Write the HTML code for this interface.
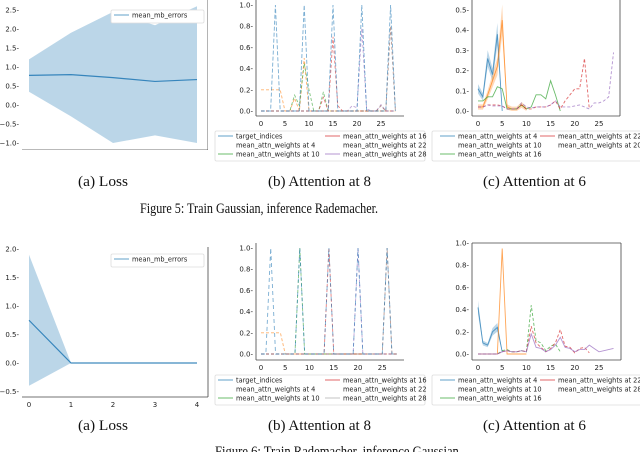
<!DOCTYPE html>
<html><head><meta charset="utf-8"><style>
html,body{margin:0;padding:0;background:#fff;width:640px;height:452px;overflow:hidden}
svg text{font-family:"DejaVu Sans","Liberation Sans",sans-serif}
svg text.cap{font-family:"Liberation Serif",serif;font-size:15px;fill:#111}
</style></head><body>
<svg id="fig" width="640" height="452" viewBox="0 0 640 452" xmlns="http://www.w3.org/2000/svg">
<text class="cap" style="font-family:'Liberation Serif',serif" x="78" y="186" textLength="50" lengthAdjust="spacingAndGlyphs">(a) Loss</text>
<text class="cap" style="font-family:'Liberation Serif',serif" x="268" y="186" textLength="103" lengthAdjust="spacingAndGlyphs">(b) Attention at 8</text>
<text class="cap" style="font-family:'Liberation Serif',serif" x="483" y="186" textLength="103" lengthAdjust="spacingAndGlyphs">(c) Attention at 6</text>
<text class="cap" style="font-family:'Liberation Serif',serif" x="140" y="213" textLength="238" lengthAdjust="spacingAndGlyphs">Figure 5: Train Gaussian, inference Rademacher.</text>
<text class="cap" style="font-family:'Liberation Serif',serif" x="78" y="430" textLength="50" lengthAdjust="spacingAndGlyphs">(a) Loss</text>
<text class="cap" style="font-family:'Liberation Serif',serif" x="268" y="430" textLength="103" lengthAdjust="spacingAndGlyphs">(b) Attention at 8</text>
<text class="cap" style="font-family:'Liberation Serif',serif" x="483" y="430" textLength="103" lengthAdjust="spacingAndGlyphs">(c) Attention at 6</text>
<text class="cap" style="font-family:'Liberation Serif',serif" x="215" y="456" textLength="247" lengthAdjust="spacingAndGlyphs">Figure 6: Train Rademacher, inference Gaussian.</text>
</svg>
<script>
// ---- data ----
const lossEpochs=[0,1,2,3,4];
const loss5Mean=[0.78,0.80,0.72,0.62,0.67];
const loss5Upper=[1.2,1.9,2.45,2.1,2.6];
const loss5Lower=[0.35,-0.3,-1.0,-0.8,-1.0];
const loss6Mean=[0.75,0,0,0,0];
const loss6Upper=[1.9,0,0,0,0];
const loss6Lower=[-0.4,0,0,0,0];
const lossTicks5=[-1.0,-0.5,0.0,0.5,1.0,1.5,2.0,2.5];
const lossTicks6=[-0.5,0.0,0.5,1.0,1.5,2.0];
const attnXTicks=[0,5,10,15,20,25];
const attnYTicksB=[0,0.2,0.4,0.6,0.8,1.0];
const attnYTicksC5=[0,0.1,0.2,0.3,0.4,0.5];
// Fig5 b
const b5Target=[0,0,0,1,0,0,0,0,0,1,0,0,0,0,0,1,0,0,0,0,0,1,0,0,0,0,0,1,0];
const b5W4=[0.2,0.2,0.2,0.2,0.2,0,0,0.12,0,0.5,0,0,0,0,0,0,0,0,0,0,0,0,0,0,0,0,0,0,0];
const b5W10=[0,0,0,0,0,0,0,0.15,0.05,0.45,0.2,0,0,0.18,0,0,0,0,0,0,0,0,0,0,0,0,0,0,0];
const b5W16=[0,0,0,0,0,0,0,0,0,0,0,0,0,0.13,0,0.7,0.05,0,0,0,0,0,0,0,0,0,0,0,0];
const b5W22=[0,0,0,0,0,0,0,0,0,0,0,0,0,0,0,0,0,0,0,0.05,0.03,0.78,0.02,0,0,0.06,0,0,0];
const b5W28=[0,0,0,0,0,0,0,0,0,0,0,0,0,0,0,0,0,0,0,0,0,0,0,0,0,0.05,0,0.8,0];
// Fig5 c
const c5W4=[0.11,0.07,0.26,0.18,0.38,0.0];
const c5W10=[0.02,0.02,0.08,0.15,0.22,0.45,0.02,0.01,0.01,0.03,0.01];
const c5W16=[0.05,0.05,0.07,0.07,0.12,0.11,0.01,0.01,0.01,0.03,0.01,0.02,0.08,0.08,0.06,0.15,0.08,0.0];
const c5W22=[0.02,0.02,0.03,0.03,0.03,0.025,0.01,0.01,0.01,0.03,0.01,0.01,0.02,0.02,0.02,0.03,0.05,0.01,0.05,0.08,0.11,0.11,0.26,0.01];
const c5W28=[0.02,0.02,0.03,0.025,0.025,0.025,0.01,0.01,0.01,0.04,0.02,0.015,0.02,0.02,0.02,0.03,0.05,0.02,0.02,0.02,0.025,0.03,0.02,0.01,0.04,0.04,0.05,0.07,0.29];
// Fig6 b
const b6Target=[0,0,1,0,0,0,0,0,1,0,0,0,0,0,1,0,0,0,0,0,1,0,0,0,0,0,1,0,0];
const b6W4=[0.2,0.2,0.2,0.2,0.2,0,0,0,0,0,0,0,0,0,0,0,0,0,0,0,0,0,0,0,0,0,0,0,0];
const b6W10=[0,0,0,0,0,0,0,0,1,0,0,0,0,0,0,0,0,0,0,0,0,0,0,0,0,0,0,0,0];
const b6W16=[0,0,0,0,0,0,0,0,0,0,0,0,0,0,1,0,0,0,0,0,0,0,0,0,0,0,0,0,0];
const b6W22=[0,0,0,0,0,0,0,0,0,0,0,0,0,0,0,0,0,0,0,0,1,0,0,0,0,0,0,0,0];
const b6W28=[0,0,0,0,0,0,0,0,0,0,0,0,0,0,0,0,0,0,0,0,0,0,0,0,0,0,1,0,0];
// Fig6 c
const c6W4=[0.42,0.1,0.08,0.2,0.24,0.02];
const c6W10=[0,0,0,0,0,0.95,0,0,0,0,0];
const c6W16=[0,0,0,0,0,0.03,0.04,0.02,0.02,0.03,0.02,0.44,0.12,0.1,0.03,0.07,0.09,0.02];
const c6W22=[0,0,0,0,0,0.02,0.03,0.02,0.02,0.03,0.02,0.25,0.1,0.06,0.02,0.05,0.1,0.22,0.07,0.06,0.01,0.05,0.06,0.01];
const c6W28=[0,0,0,0,0,0.02,0.03,0.02,0.02,0.03,0.02,0.18,0.06,0.05,0.02,0.04,0.08,0.15,0.06,0.05,0.02,0.04,0.04,0.08,0.05,0.02,0.03,0.04,0.05];

const NS="http://www.w3.org/2000/svg";
const svg=document.getElementById('fig');
function mk(tag,attrs,parent){const e=document.createElementNS(NS,tag);for(const k in attrs)e.setAttribute(k,attrs[k]);(parent||svg).appendChild(e);return e;}
const C={blue:'#1f77b4',orange:'#ff7f0e',green:'#2ca02c',red:'#d62728',purple:'#9467bd',brown:'#8c564b'};

function axes(o){
  const sx=v=>o.x0+(v-o.vx0)*o.kx, sy=v=>o.y0-(v-o.vy0)*o.ky;
  const g=mk('g',{});
  
  
  for(const s of o.spines){
    const l=mk('line',Object.assign({stroke:'#444','stroke-width':0.8},s),g);
    
    
  }
  for(const t of o.xt){
    const tx=mk('text',{x:sx(t),y:o.xAxisY+10,'font-size':7,'text-anchor':'middle',fill:'#222'},g);
    tx.textContent=t;
    
    
  }
  for(const t of o.yt){
    const ty=mk('text',{x:o.yAxisX-3,y:sy(t)+2.5,'font-size':7,'text-anchor':'end',fill:'#222'},g);
    ty.textContent=(t<0?'\u2212':'')+Math.abs(t).toFixed(1)+'-';
    
    
  }
  return {sx,sy,g};
}
function line(ax,vals,color,dash,name,w,op){
  const pts=vals.map((v,i)=>ax.sx(i)+','+ax.sy(v)).join(' ');
  const p=mk('polyline',{points:pts,fill:'none',stroke:color,'stroke-width':w||1,'stroke-dasharray':dash||'none','stroke-opacity':op||0.85},ax.g);
  
  
}
function band(ax,xs,up,lo,color,name){
  const a=xs.map((x,i)=>ax.sx(x)+','+ax.sy(up[i]));
  const b=xs.map((x,i)=>ax.sx(x)+','+ax.sy(lo[i])).reverse();
  const p=mk('polygon',{points:a.concat(b).join(' '),fill:color,'fill-opacity':0.3},ax.g);
  
  
}
function legend(x,y,w,h,cols){
  const g=mk('g',{});
  
  
  const r=mk('rect',{x,y,width:w,height:h,fill:'#fff',stroke:'#ddd','stroke-width':0.8,rx:1.5},g);
  
  
  for(const c of cols){
    c.items.forEach((it,i)=>{
      const yy=y+5+i*9;
      if(it[1]){const l=mk('line',{x1:c.x,x2:c.x+15,y1:yy,y2:yy,stroke:it[1],'stroke-width':1,'stroke-opacity':0.7},g);
        
        }
      const t=mk('text',{x:c.x+18,y:yy+2.3,'font-size':6.6,fill:'#222'},g);
      t.textContent=it[0];
      
      
    });
  }
}

{
 const ax=axes({name:'loss-chart-fig5',x0:29,vx0:0,kx:42,y0:105,vy0:0,ky:38,xt:lossEpochs,yt:lossTicks5,xAxisY:150,yAxisX:22,
   spines:[{x1:22,x2:208,y1:150,y2:150},{x1:208,x2:208,y1:0,y2:150}]});
 const clip=mk('clipPath',{id:'cpa5'});mk('rect',{x:0,y:0,width:208,height:150},clip);
 ax.g.setAttribute('clip-path','url(#cpa5)');
 band(ax,lossEpochs,loss5Upper,loss5Lower,C.blue,'loss-band');
 line(ax,loss5Mean,C.blue,null,'loss-mean-line',1.2);
 legend(111,10,93,13,[{x:114,items:[['mean_mb_errors',C.blue]]}]);
}
{
 const ax=axes({name:'loss-chart-fig6',x0:29,vx0:0,kx:42,y0:363,vy0:0,ky:57,xt:lossEpochs,yt:lossTicks6,xAxisY:397,yAxisX:22,
   spines:[{x1:22,x2:208,y1:397,y2:397},{x1:208,x2:208,y1:247,y2:397}]});
 band(ax,lossEpochs,loss6Upper,loss6Lower,C.blue,'loss-band');
 line(ax,loss6Mean,C.blue,null,'loss-mean-line',1.2);
 legend(111,254,93,13,[{x:114,items:[['mean_mb_errors',C.blue]]}]);
}
{
 const ax=axes({name:'attention-8-fig5',x0:261,vx0:0,kx:4.8,y0:111,vy0:0,ky:106,xt:attnXTicks,yt:attnYTicksB,xAxisY:116,yAxisX:256,
   spines:[{x1:256,x2:404,y1:116,y2:116},{x1:256,x2:256,y1:0,y2:116}]});
 line(ax,b5W4,C.orange,'3,2','w4-line',0.9,0.6);
 line(ax,b5W10,C.green,'3,2','w10-line',0.9,0.6);
 line(ax,b5W16,C.red,'3,2','w16-line',0.9,0.6);
 line(ax,b5W22,C.purple,'3,2','w22-line',0.9,0.6);
 line(ax,b5W28,C.brown,'3,2','w28-line',0.9,0.6);
 line(ax,b5Target,C.blue,'4,2','target-line',0.9,0.6);
 legend(215,131,210,30,[{x:218,items:[['target_indices',C.blue],['mean_attn_weights at 4',null],['mean_attn_weights at 10',C.green]]},
   {x:325,items:[['mean_attn_weights at 16',C.red],['mean_attn_weights at 22',null],['mean_attn_weights at 28',C.purple]]}]);
}
{
 const ax=axes({name:'attention-6-fig5',x0:478,vx0:0,kx:4.84,y0:111,vy0:0,ky:202,xt:attnXTicks,yt:attnYTicksC5,xAxisY:116,yAxisX:472,
   spines:[{x1:472,x2:620,y1:116,y2:116},{x1:472,x2:472,y1:0,y2:116},{x1:620,x2:620,y1:0,y2:116}]});
 band(ax,c5W4.map((v,i)=>i),c5W4.map(v=>v*1.12+0.01),c5W4.map(v=>Math.max(0,v*0.88-0.01)),C.blue,'w4-band');
 band(ax,c5W10.map((v,i)=>i),c5W10.map(v=>v*1.15+0.01),c5W10.map(v=>Math.max(0,v*0.85-0.01)),C.orange,'w10-band');
 line(ax,c5W4,C.blue,null,'w4-line',0.9,0.7);
 line(ax,c5W10,C.orange,null,'w10-line',0.9,0.7);
 line(ax,c5W16,C.green,null,'w16-line',0.9,0.7);
 line(ax,c5W22,C.red,'3,2','w22-line',0.9,0.7);
 line(ax,c5W28,C.purple,'3,2','w28-line',0.9,0.7);
 legend(432,131,210,30,[{x:440,items:[['mean_attn_weights at 4',C.blue],['mean_attn_weights at 10',null],['mean_attn_weights at 16',C.green]]},
   {x:540,items:[['mean_attn_weights at 22',C.red],['mean_attn_weights at 20',null]]}]);
}
{
 const ax=axes({name:'attention-8-fig6',x0:261,vx0:0,kx:4.85,y0:354,vy0:0,ky:106,xt:attnXTicks,yt:attnYTicksB,xAxisY:360,yAxisX:256,
   spines:[{x1:256,x2:404,y1:360,y2:360},{x1:256,x2:256,y1:243,y2:360}]});
 line(ax,b6W4,C.orange,'3,2','w4-line',0.9,0.6);
 line(ax,b6W10,C.green,'3,2','w10-line',0.9,0.6);
 line(ax,b6W16,C.red,'3,2','w16-line',0.9,0.6);
 line(ax,b6W22,C.purple,'3,2','w22-line',0.9,0.6);
 line(ax,b6W28,C.brown,'3,2','w28-line',0.9,0.6);
 line(ax,b6Target,C.blue,'4,3','target-line',0.9,0.6);
 legend(215,375,210,30,[{x:218,items:[['target_indices',C.blue],['mean_attn_weights at 4',null],['mean_attn_weights at 10',C.green]]},
   {x:325,items:[['mean_attn_weights at 16',C.red],['mean_attn_weights at 22',null],['mean_attn_weights at 28','#aaa']]}]);
}
{
 const ax=axes({name:'attention-6-fig6',x0:478,vx0:0,kx:4.84,y0:354,vy0:0,ky:111,xt:attnXTicks,yt:attnYTicksB,xAxisY:360,yAxisX:472,
   spines:[{x1:472,x2:621,y1:360,y2:360},{x1:472,x2:472,y1:243,y2:360},{x1:621,x2:621,y1:243,y2:360},{x1:472,x2:621,y1:243,y2:243}]});
 band(ax,c6W4.map((v,i)=>i),c6W4.map(v=>v*1.12+0.01),c6W4.map(v=>Math.max(0,v*0.88-0.01)),C.blue,'w4-band');
 line(ax,c6W4,C.blue,null,'w4-line',0.9,0.7);
 line(ax,c6W10,C.orange,null,'w10-line',0.9,0.7);
 line(ax,c6W16,C.green,'3,2','w16-line',0.9,0.7);
 line(ax,c6W22,C.red,'3,2','w22-line',0.9,0.7);
 line(ax,c6W28,C.purple,null,'w28-line',0.9,0.7);
 legend(432,375,210,30,[{x:440,items:[['mean_attn_weights at 4',C.blue],['mean_attn_weights at 10',null],['mean_attn_weights at 16',C.green]]},
   {x:540,items:[['mean_attn_weights at 22',C.red],['mean_attn_weights at 28',null]]}]);
}
</script>
</body></html>
